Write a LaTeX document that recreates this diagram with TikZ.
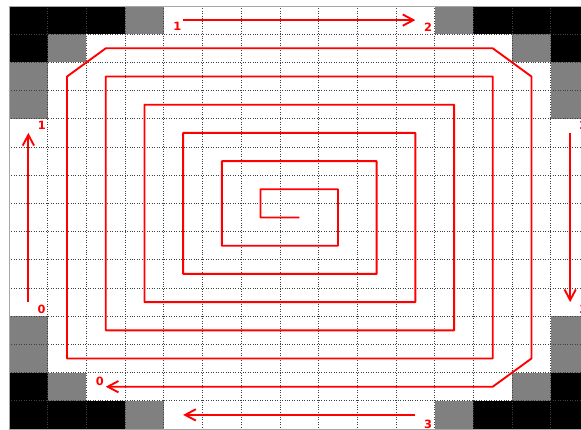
\documentclass[tikz,border=0pt]{standalone}
\usepackage{fontspec}
\setmainfont{DejaVu Sans}
\usepackage{tikz}
\usetikzlibrary{arrows.meta}

\begin{document}
\begin{tikzpicture}[x=1.161cm, y=-0.846cm,
  spiral/.style={red, line width=1.6pt, line join=round},
  edgearrow/.style={red, line width=1.6pt, -{Straight Barb[length=3.2mm,width=3.4mm]}},
  lbl/.style={text=red, font=\fontsize{9.7}{10}\selectfont\bfseries, inner sep=0pt}]

% Fond
\useasboundingbox (-0.2326,-0.2128) rectangle (14.78,15.035);
\fill[white] (-0.2326,-0.2128) rectangle (14.78,15.035);

% Cases noires
\fill[black] (0,0)   rectangle (3,1);
\fill[black] (12,0)  rectangle (15,1);
\fill[black] (0,1)   rectangle (1,2);
\fill[black] (14,1)  rectangle (15,2);
\fill[black] (0,13)  rectangle (1,14);
\fill[black] (14,13) rectangle (15,14);
\fill[black] (0,14)  rectangle (3,15);
\fill[black] (12,14) rectangle (15,15);

% Cases grises
\fill[gray] (3,0)   rectangle (4,1);
\fill[gray] (11,0)  rectangle (12,1);
\fill[gray] (1,1)   rectangle (2,2);
\fill[gray] (13,1)  rectangle (14,2);
\fill[gray] (0,2)   rectangle (1,4);
\fill[gray] (14,2)  rectangle (15,4);
\fill[gray] (0,11)  rectangle (1,13);
\fill[gray] (14,11) rectangle (15,13);
\fill[gray] (1,13)  rectangle (2,14);
\fill[gray] (13,13) rectangle (14,14);
\fill[gray] (3,14)  rectangle (4,15);
\fill[gray] (11,14) rectangle (12,15);

% Grille
\foreach \x in {1,2,...,14} {
  \draw[black!75, line width=0.6pt, dash pattern=on 0.8pt off 1.3pt] (\x,0) -- (\x,15);
}
\foreach \y in {1,2,...,14} {
  \draw[black!75, line width=0.6pt, dash pattern=on 0.8pt off 1.3pt] (0,\y) -- (15,\y);
}

% Cadre
\draw[gray!70, line width=0.7pt] (0,0) rectangle (15,15);

% Spirale
\draw[spiral, -{Straight Barb[length=3.2mm,width=3.4mm]}]
  (7.5,7.5) -- (6.5,7.5) -- (6.5,6.5) -- (8.5,6.5) -- (8.5,8.5)
  -- (5.5,8.5) -- (5.5,5.5) -- (9.5,5.5) -- (9.5,9.5)
  -- (4.5,9.5) -- (4.5,4.5) -- (10.5,4.5) -- (10.5,10.5)
  -- (3.5,10.5) -- (3.5,3.5) -- (11.5,3.5) -- (11.5,11.5)
  -- (2.5,11.5) -- (2.5,2.5) -- (12.5,2.5) -- (12.5,12.5)
  -- (1.5,12.5) -- (1.5,2.5) -- (2.5,1.5) -- (12.5,1.5)
  -- (13.5,2.5) -- (13.5,12.5) -- (12.5,13.5) -- (2.5,13.5);

% Fleches du bord
\coordinate (top0) at (4.5,0.5);
\coordinate (top1) at (10.5,0.5);
\coordinate (rgt0) at (14.5,4.5);
\coordinate (rgt1) at (14.5,10.5);
\coordinate (bot0) at (10.5,14.5);
\coordinate (bot1) at (4.5,14.5);
\coordinate (lft0) at (0.5,10.5);
\coordinate (lft1) at (0.5,4.5);
\draw[edgearrow] (top0) -- (top1);
\draw[edgearrow] (rgt0) -- (rgt1);
\draw[edgearrow] (bot0) -- (bot1);
\draw[edgearrow] (lft0) -- (lft1);

% Etiquettes
\node[lbl] (ltop0) at (4.35,0.73)   {1};
\node[lbl] (ltop1) at (10.83,0.74)  {2};
\node[lbl] (lrgt0) at (14.84,4.24)  {2};
\node[lbl] (lrgt1) at (14.84,10.75) {3};
\node[lbl] (lbot0) at (10.83,14.85) {3};
\node[lbl] (llft1) at (0.85,4.24)   {1};
\node[lbl] (llft0) at (0.84,10.75)  {0};
\node[lbl] (lspi)  at (2.35,13.32)  {0};

\end{tikzpicture}
\end{document}
